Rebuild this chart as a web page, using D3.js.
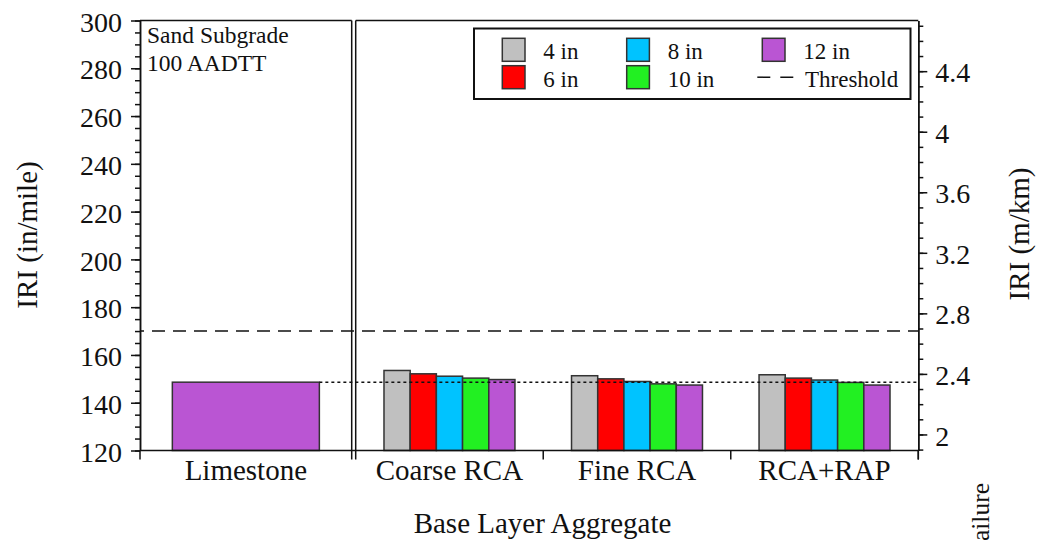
<!DOCTYPE html>
<html>
<head>
<meta charset="utf-8">
<script src="https://cdn.jsdelivr.net/npm/d3@7"></script>
<style>
  html, body { margin: 0; padding: 0; background: #fff; }
  svg { display: block; }
  text { font-family: "Liberation Serif", "Times New Roman", serif; fill: #111; }
</style>
</head>
<body>
<svg id="chart" width="1037" height="542"></svg>
<script>
// IRI predictions by base layer aggregate and base thickness
const baseCategory = "Limestone";
const categories = ["Coarse RCA", "Fine RCA", "RCA+RAP"];
const thicknesses = ["4 in", "6 in", "8 in", "10 in", "12 in"];
const iriCoarseRCA = [153.5, 152.1, 151.1, 150.3, 149.7];
const iriFineRCA   = [151.3, 150.0, 148.9, 147.9, 147.4];
const iriRcaRap    = [151.7, 150.3, 149.5, 148.5, 147.4];
const iriLimestone = 148.6;
const threshold = 170;
const leftTickValues = [120, 140, 160, 180, 200, 220, 240, 260, 280, 300];
const rightTickValues = [2, 2.4, 2.8, 3.2, 3.6, 4, 4.4];
const seriesColors = ["#c0c0c0", "#ff0000", "#00c3ff", "#22f022", "#ba55d3"];
const inPerMileToMPerKm = 63.36;

const seriesByCategory = [iriCoarseRCA, iriFineRCA, iriRcaRap];

const svg = d3.select("#chart");
const ink = "#111";

const plotTop = 20.5, plotBottom = 450.5;
const leftX = 140, breakL = 351.7, breakR = 355.7, rightX = 918.3;

const y = d3.scaleLinear().domain([120, 300]).range([plotBottom, plotTop]);
const yR = d3.scaleLinear()
  .domain([120 / inPerMileToMPerKm, 300 / inPerMileToMPerKm])
  .range([plotBottom, plotTop]);

// left panel (single reference category)
const xLeft = d3.scaleBand().domain([baseCategory]).range([leftX, breakL])
  .paddingInner(0).paddingOuter(0.22);
// right panel (recycled aggregates)
const x0 = d3.scaleBand().domain(categories).range([breakR, rightX]).padding(0);
const x1 = d3.scaleBand().domain(thicknesses).range([0, x0.bandwidth()])
  .paddingInner(0).paddingOuter(1.08);
const color = d3.scaleOrdinal().domain(thicknesses).range(seriesColors);

// Bars
svg.append("rect")
  .attr("x", xLeft(baseCategory))
  .attr("y", y(iriLimestone))
  .attr("width", xLeft.bandwidth())
  .attr("height", y(120) - y(iriLimestone))
  .attr("fill", color("12 in"))
  .attr("stroke", "#333").attr("stroke-width", 1.5);

const groups = svg.append("g").selectAll("g")
  .data(categories)
  .join("g")
  .attr("transform", d => `translate(${x0(d)},0)`);

groups.selectAll("rect")
  .data((d, i) => thicknesses.map((t, j) => ({ t, v: seriesByCategory[i][j] })))
  .join("rect")
  .attr("x", d => x1(d.t))
  .attr("y", d => y(d.v))
  .attr("width", x1.bandwidth())
  .attr("height", d => y(120) - y(d.v))
  .attr("fill", d => color(d.t))
  .attr("stroke", "#333").attr("stroke-width", 1.5);

// Limestone reference (dotted) and threshold (dashed)
svg.append("line")
  .attr("x1", xLeft(baseCategory) + xLeft.bandwidth()).attr("x2", rightX)
  .attr("y1", y(iriLimestone)).attr("y2", y(iriLimestone))
  .attr("stroke", ink).attr("stroke-width", 1.6).attr("stroke-dasharray", "3,3");

svg.append("line")
  .attr("x1", leftX).attr("x2", rightX)
  .attr("y1", y(threshold)).attr("y2", y(threshold))
  .attr("stroke", ink).attr("stroke-width", 1.5).attr("stroke-dasharray", "13,8")
  .attr("stroke-dashoffset", -12);

// Frames
const frame = svg.append("g").attr("fill", "none").attr("stroke", ink).attr("stroke-width", 1.5);
frame.append("line").attr("x1", leftX).attr("x2", breakL).attr("y1", plotTop).attr("y2", plotTop);
frame.append("line").attr("x1", breakR).attr("x2", rightX).attr("y1", plotTop).attr("y2", plotTop);
frame.append("line").attr("x1", breakL).attr("x2", breakL).attr("y1", plotTop).attr("y2", plotBottom + 9);
frame.append("line").attr("x1", breakR).attr("x2", breakR).attr("y1", plotTop).attr("y2", plotBottom + 9);
frame.append("line").attr("x1", leftX).attr("x2", rightX).attr("y1", plotBottom).attr("y2", plotBottom);

// Bottom axis ticks at category boundaries
const boundaryTicks = [leftX, ...categories.slice(1).map(c => x0(c)), rightX];
frame.selectAll("line.bt").data(boundaryTicks).join("line")
  .attr("class", "bt")
  .attr("x1", d => d).attr("x2", d => d)
  .attr("y1", plotBottom).attr("y2", plotBottom + 9);

function minorValues(lo, hi, step) {
  const out = [];
  for (let k = Math.ceil(lo / step - 1e-9); k * step <= hi + 1e-9; k++) out.push(+(k * step).toFixed(4));
  return out;
}

const styleAxis = g => {
  g.selectAll("path").attr("stroke", ink).attr("stroke-width", 1.5);
  g.selectAll("line").attr("stroke", ink).attr("stroke-width", 1.5);
  g.selectAll("text").attr("font-size", 28).attr("fill", ink)
    .style("font-family", "'Liberation Serif', 'Times New Roman', serif");
};

// Left axis (in/mile)
svg.append("g").attr("transform", `translate(${leftX},0)`)
  .call(d3.axisLeft(y).tickValues(minorValues(120, 300, 5)).tickSize(5).tickFormat("").tickSizeOuter(0))
  .call(styleAxis);
svg.append("g").attr("transform", `translate(${leftX},0)`)
  .call(d3.axisLeft(y).tickValues(leftTickValues).tickSize(9).tickPadding(9).tickSizeOuter(0))
  .call(styleAxis)
  .call(g => g.selectAll("text").attr("dy", "0.38em"));

// Right axis (m/km)
const rd = yR.domain();
svg.append("g").attr("transform", `translate(${rightX},0)`)
  .call(d3.axisRight(yR).tickValues(minorValues(rd[0], rd[1], 0.1)).tickSize(5).tickFormat("").tickSizeOuter(0))
  .call(styleAxis);
svg.append("g").attr("transform", `translate(${rightX},0)`)
  .call(d3.axisRight(yR).tickValues(rightTickValues).tickSize(9).tickPadding(8)
    .tickFormat(d => String(+d.toFixed(1))).tickSizeOuter(0))
  .call(styleAxis)
  .call(g => g.selectAll("text").attr("dy", "0.38em"));
svg.append("line").attr("x1", rightX).attr("x2", rightX).attr("y1", plotBottom).attr("y2", plotBottom + 9)
  .attr("stroke", ink).attr("stroke-width", 1.5);

// Category labels
svg.append("text").attr("x", xLeft(baseCategory) + xLeft.bandwidth() / 2).attr("y", 480)
  .attr("text-anchor", "middle").attr("font-size", 29).text(baseCategory);
svg.append("g").selectAll("text").data(categories).join("text")
  .attr("x", d => x0(d) + x0.bandwidth() / 2).attr("y", 480)
  .attr("text-anchor", "middle").attr("font-size", 29).text(d => d);

// Axis titles
svg.append("text").attr("x", 542.5).attr("y", 533).attr("text-anchor", "middle")
  .attr("font-size", 29).text("Base Layer Aggregate");
svg.append("text").attr("transform", "translate(37,235) rotate(-90)").attr("text-anchor", "middle")
  .attr("font-size", 29).text("IRI (in/mile)");
svg.append("text").attr("transform", "translate(1029,234) rotate(-90)").attr("text-anchor", "middle")
  .attr("font-size", 29).text("IRI (m/km)");
svg.append("text").attr("transform", "translate(989,483) rotate(-90)").attr("text-anchor", "end")
  .attr("font-size", 25.5).text("ailure");

// Panel annotation
svg.append("text").attr("x", 147).attr("y", 43).attr("font-size", 23.5).text("Sand Subgrade");
svg.append("text").attr("x", 147).attr("y", 70.7).attr("font-size", 23.5).text("100 AADTT");

// Legend
const legend = svg.append("g");
legend.append("rect").attr("x", 474).attr("y", 28.5).attr("width", 436.5).attr("height", 70.5)
  .attr("fill", "#fff").attr("stroke", ink).attr("stroke-width", 2);

const colX = [502.3, 626.7, 762.3];
const rowY = [38.3, 65.7];
const legendItems = thicknesses.map((t, i) => ({ label: t, col: Math.floor(i / 2), row: i % 2, kind: "box" }))
  .concat([{ label: "Threshold", col: 2, row: 1, kind: "dash" }]);

legendItems.forEach(it => {
  const sx = colX[it.col], sy = rowY[it.row];
  if (it.kind === "box") {
    legend.append("rect").attr("x", sx).attr("y", sy).attr("width", 22.7).attr("height", 23)
      .attr("fill", color(it.label)).attr("stroke", "#333").attr("stroke-width", 1.5);
    legend.append("text").attr("x", sx + 41).attr("y", sy + 20.8).attr("font-size", 23).text(it.label);
  } else {
    legend.append("line").attr("x1", sx - 5).attr("x2", sx + 33).attr("y1", sy + 11.5).attr("y2", sy + 11.5)
      .attr("stroke", ink).attr("stroke-width", 1.5).attr("stroke-dasharray", "13,10");
    legend.append("text").attr("x", sx + 42.7).attr("y", sy + 20.8).attr("font-size", 23).text(it.label);
  }
});
</script>
</body>
</html>
